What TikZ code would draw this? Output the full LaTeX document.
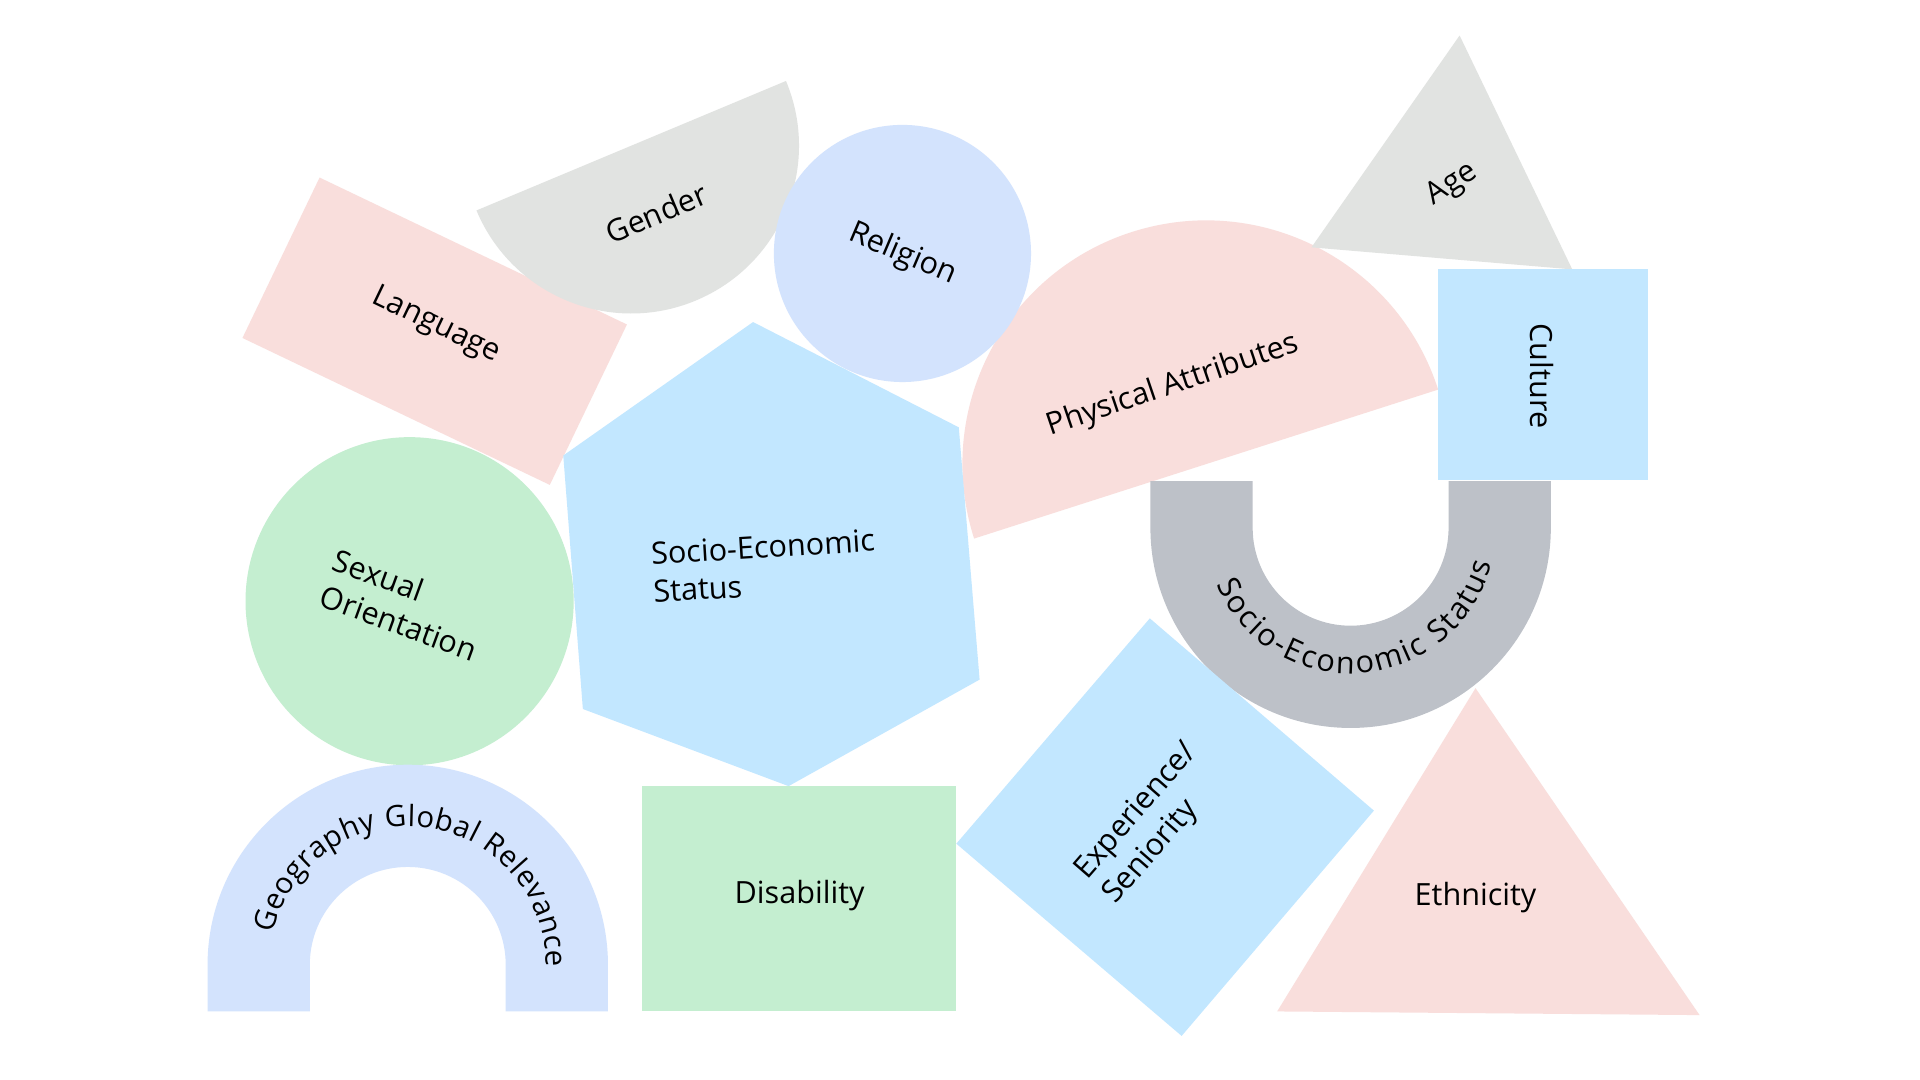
\documentclass[tikz,border=0pt]{standalone}
\usepackage{fontspec}
\setmainfont{Open Sans}
\usetikzlibrary{decorations.text}
\definecolor{cpink}{HTML}{F9DEDC}
\definecolor{cgray}{HTML}{E1E3E1}
\definecolor{cblue}{HTML}{D3E3FD}
\definecolor{ccyan}{HTML}{C2E7FF}
\definecolor{cgreen}{HTML}{C4EED0}
\definecolor{cdark}{HTML}{BDC1C8}
\newcommand\lblfont{\fontsize{25}{31}\selectfont}
\newcommand\arcfont{\fontsize{24}{30}\selectfont}
\begin{document}
\begin{tikzpicture}[x=1pt,y=-1pt,
  lbl/.style={font=\lblfont, text=black, align=center, inner sep=0pt},
  lbll/.style={lbl, align=left}]
\useasboundingbox (0,0) rectangle (1568,882);
\fill[white] (0,0) rectangle (1568,882);

% Language rectangle
\fill[cpink] (261,145) -- (512,265) -- (449,396) -- (198,276) -- cycle;
% Gender half disk
\coordinate (genc) at (515.5,119);
\fill[cgray] (genc) ++(-22.7:137) arc[start angle=-22.7, end angle=157.3, radius=137] -- cycle;
% Physical attributes half disk
\coordinate (phyc) at (985,379);
\fill[cpink] (phyc) ++(-17.8:199) arc[start angle=-17.8, end angle=-197.8, radius=199] -- cycle;
% Religion circle
\fill[cblue] (737,207) circle[radius=105];
% Hexagon
\fill[ccyan] (615,263) -- (783,349) -- (800,555) -- (644,642) -- (476,579) -- (460,372) -- cycle;
% Sexual orientation circle
\fill[cgreen] (334.5,491) circle[radius=134];
% Geography arch
\coordinate (geoc) at (333,788);
\fill[cblue] (169.5,826) -- (169.5,788) arc[start angle=180, end angle=360, radius=163.5]
  -- (496.5,826) -- (413,826) -- (413,788) arc[start angle=0, end angle=-180, radius=80]
  -- (253,826) -- cycle;
% Disability rectangle
\fill[cgreen] (524,642) rectangle (781,826);
% Age triangle
\fill[cgray] (1192,29) -- (1284,220) -- (1071,202) -- cycle;
% Culture rectangle
\fill[ccyan] (1174,220) rectangle (1346,392);
% U shape
\coordinate (uc) at (1103,431);
\fill[cdark] (939.5,393) -- (939.5,431) arc[start angle=180, end angle=0, radius=163.5]
  -- (1266.5,393) -- (1183,393) -- (1183,431) arc[start angle=0, end angle=180, radius=80]
  -- (1023,431) -- (1023,393) -- cycle;
% Experience diamond
\fill[ccyan] (939,505) -- (1122,662) -- (965,846) -- (781,689) -- cycle;
% Ethnicity triangle
\fill[cpink] (1205,562) -- (1388,829) -- (1043,826) -- cycle;

% Labels
\node[lbl, rotate=-25.6] (language) at (356,266) {Language};
\node[lbl, rotate=22.7] (gender) at (536,174) {Gender};
\node[lbl, rotate=-23] (religion) at (737,208) {Religion};
\node[lbl, rotate=33] (age) at (1186,151) {Age};
\node[lbl, rotate=18.7] (physical) at (958,315) {Physical Attributes};
\node[lbl, rotate=-90] (culture) at (1259,307) {Culture};
\node[lbll, rotate=3.5] (socio) at (624,462) {Socio-Economic\\Status};
\node[lbll, rotate=-20] (sexual) at (331,494) {Sexual\\Orientation};
\node[lbl] (disability) at (653,731) {Disability};
\node[lbll, rotate=49] (experience) at (940,673) {Experience/\\Seniority};
\node[lbl] (ethnicity) at (1205,733) {Ethnicity};

\path[decorate, decoration={text along path, text align=fit to path,
  text={|\arcfont|Geography Global Relevance}}]
  (geoc) ++(193:113) arc[start angle=193, end angle=361, radius=113];
\path[decorate, decoration={text along path, text align=fit to path,
  text={|\lblfont|Socio-Economic Status}}]
  (uc) ++(157:119) arc[start angle=157, end angle=14, radius=119];
\end{tikzpicture}
\end{document}
